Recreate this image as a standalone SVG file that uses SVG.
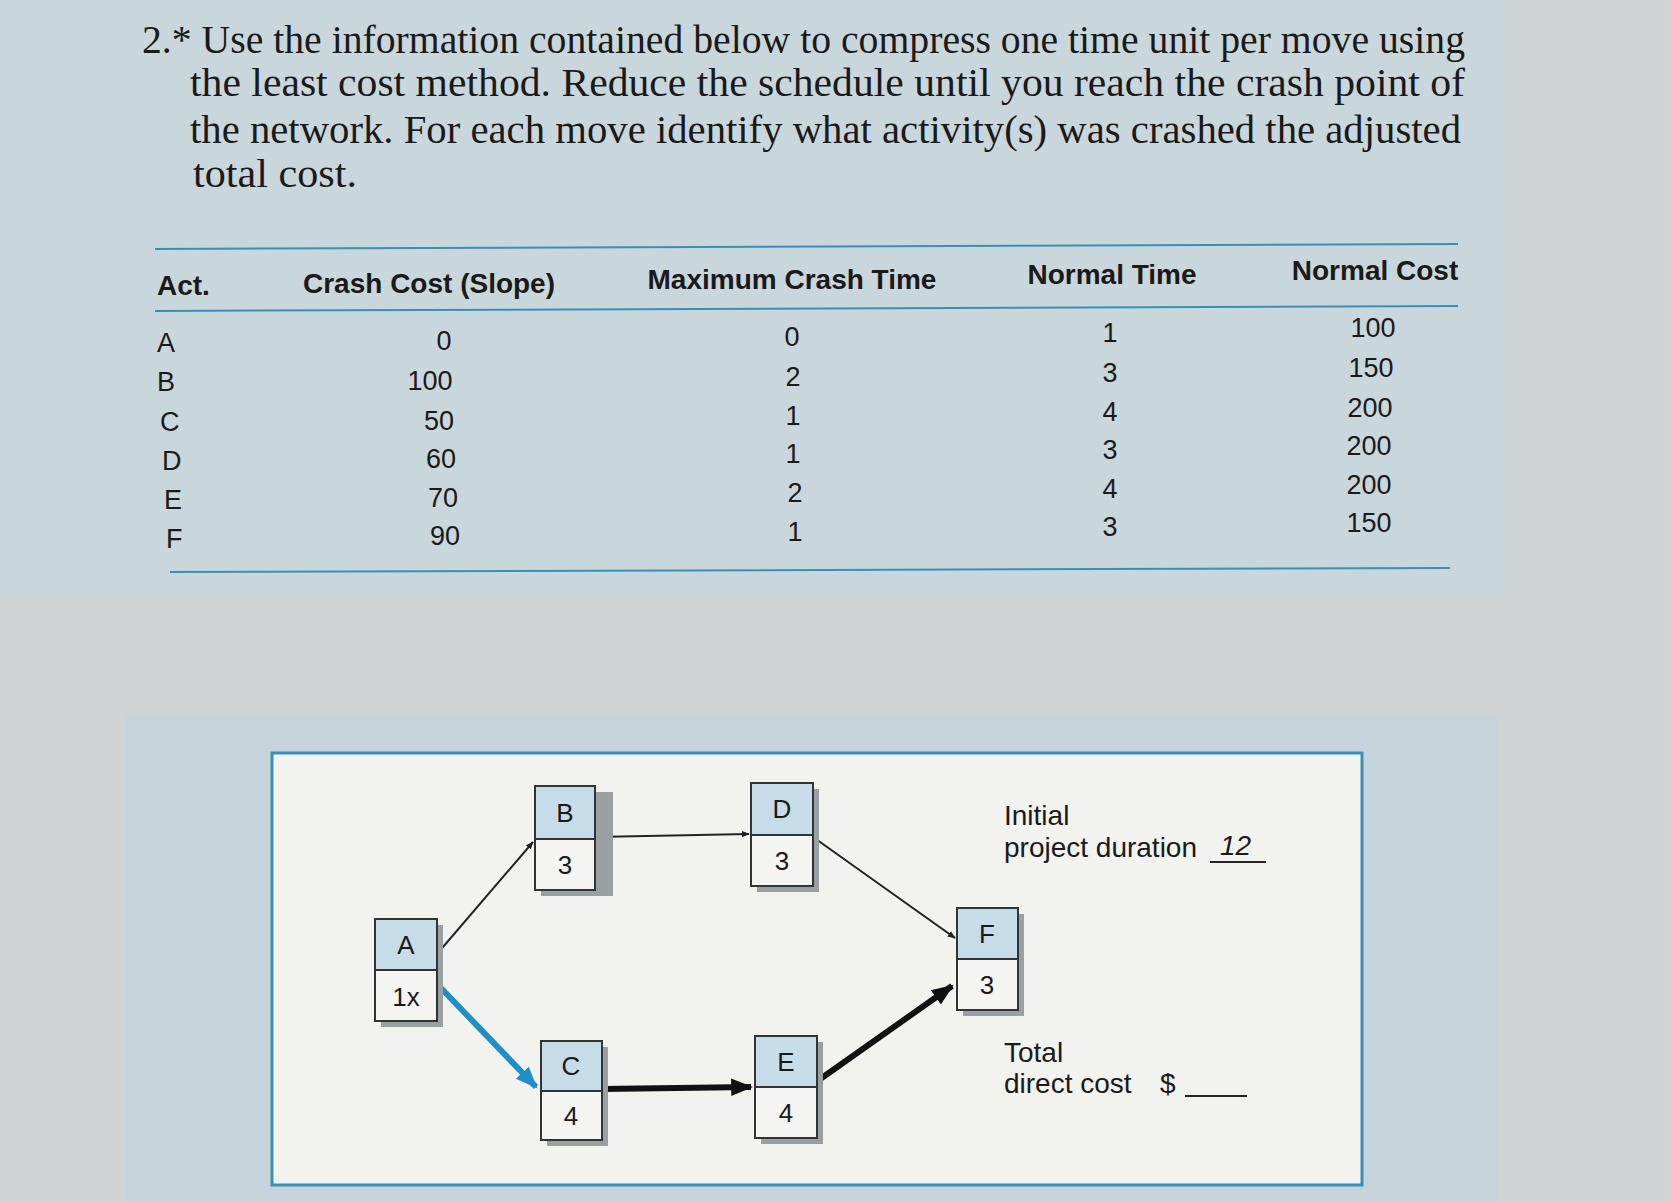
<svg xmlns="http://www.w3.org/2000/svg" width="1671" height="1201" viewBox="0 0 1671 1201">
<style>
.t{font-family:"Liberation Serif",serif;font-size:39px;fill:#1a1a1a}
.h{font-family:"Liberation Sans",sans-serif;font-size:28px;font-weight:bold;fill:#1a1a1a}
.c{font-family:"Liberation Sans",sans-serif;font-size:27px;fill:#1a1a1a}
.n{font-family:"Liberation Sans",sans-serif;font-size:26px;fill:#1a1a1a;text-anchor:middle}
.l{font-family:"Liberation Sans",sans-serif;font-size:28px;fill:#1a1a1a}
.top{fill:#c6dce8;stroke:#333;stroke-width:2}
.bot{fill:#f4f4f2;stroke:#333;stroke-width:2}
.sh{fill:#9a9fa2}
.e{stroke:#222;fill:none}
</style>
<defs>
<marker id="ar" viewBox="0 0 10 10" refX="9" refY="5" markerWidth="8" markerHeight="8" orient="auto" markerUnits="userSpaceOnUse"><path d="M0,1 L10,5 L0,9z" fill="#222"/></marker>
<marker id="arb" viewBox="0 0 10 10" refX="9" refY="5" markerWidth="22" markerHeight="22" orient="auto" markerUnits="userSpaceOnUse"><path d="M0,1 L10,5 L0,9z" fill="#111"/></marker>
<marker id="arc" viewBox="0 0 10 10" refX="9" refY="5" markerWidth="22" markerHeight="22" orient="auto" markerUnits="userSpaceOnUse"><path d="M0,1 L10,5 L0,9z" fill="#1f8fc8"/></marker>
</defs>
<rect width="1671" height="1201" fill="#cfd3d3"/>
<rect x="0" y="0" width="1503" height="598" fill="#c9d6dc"/>
<rect x="126" y="716" width="1371" height="485" fill="#c4d4da"/>
<rect x="272" y="753" width="1090" height="432" fill="#f2f2ef" stroke="#3a8fb8" stroke-width="3"/>
<g id="title">
<text class="t" x="142" y="53" textLength="1323" lengthAdjust="spacingAndGlyphs">2.* Use the information contained below to compress one time unit per move using</text>
<text class="t" x="190" y="96" textLength="1275" lengthAdjust="spacingAndGlyphs">the least cost method. Reduce the schedule until you reach the crash point of</text>
<text class="t" x="190" y="143" textLength="1271" lengthAdjust="spacingAndGlyphs">the network. For each move identify what activity(s) was crashed the adjusted</text>
<text class="t" x="193" y="187" textLength="164" lengthAdjust="spacingAndGlyphs">total cost.</text>
</g>
<g id="table">
<line x1="155" y1="249" x2="1458" y2="244" stroke="#3a8fb8" stroke-width="2"/>
<line x1="155" y1="311" x2="1458" y2="306" stroke="#3a8fb8" stroke-width="2"/>
<line x1="170" y1="572" x2="1450" y2="568" stroke="#3a8fb8" stroke-width="2"/>
<text class="h" x="157" y="295">Act.</text>
<text class="h" x="429" y="293" text-anchor="middle">Crash Cost (Slope)</text>
<text class="h" x="792" y="289" text-anchor="middle">Maximum Crash Time</text>
<text class="h" x="1112" y="284" text-anchor="middle">Normal Time</text>
<text class="h" x="1375" y="280" text-anchor="middle">Normal Cost</text>
<g class="c">
<text x="157" y="352">A</text><text x="157" y="391">B</text><text x="160" y="431">C</text><text x="162" y="470">D</text><text x="164" y="509">E</text><text x="166" y="548">F</text>
</g>
<g class="c" text-anchor="middle">
<text x="444" y="350">0</text><text x="430" y="390">100</text><text x="439" y="430">50</text><text x="441" y="468">60</text><text x="443" y="507">70</text><text x="445" y="545">90</text>
<text x="792" y="346">0</text><text x="793" y="386">2</text><text x="793" y="425">1</text><text x="793" y="463">1</text><text x="795" y="502">2</text><text x="795" y="541">1</text>
<text x="1110" y="342">1</text><text x="1110" y="382">3</text><text x="1110" y="421">4</text><text x="1110" y="459">3</text><text x="1110" y="498">4</text><text x="1110" y="536">3</text>
<text x="1373" y="337">100</text><text x="1371" y="377">150</text><text x="1370" y="417">200</text><text x="1369" y="455">200</text><text x="1369" y="494">200</text><text x="1369" y="532">150</text>
</g>
</g>
<g id="connectors">
<line class="e" x1="437" y1="954" x2="533" y2="842" stroke-width="2" marker-end="url(#ar)"/>
<line class="e" x1="595" y1="837" x2="749" y2="834" stroke-width="2" marker-end="url(#ar)"/>
<line class="e" x1="813" y1="837" x2="955" y2="938" stroke-width="2" marker-end="url(#ar)"/>
<line x1="439" y1="986" x2="536" y2="1087" stroke="#1f8fc8" stroke-width="6" marker-end="url(#arc)"/>
<line x1="602" y1="1089" x2="751" y2="1087" stroke="#111" stroke-width="6" marker-end="url(#arb)"/>
<line x1="816" y1="1082" x2="952" y2="986" stroke="#111" stroke-width="6" marker-end="url(#arb)"/>
</g>
<g id="A"><rect class="sh" x="381" y="925" width="62" height="102"/><rect class="top" x="375" y="919" width="62" height="51"/><rect class="bot" x="375" y="970" width="62" height="51"/><text class="n" x="406" y="954">A</text><text class="n" x="406" y="1006">1x</text></g>
<g id="B"><rect class="sh" x="541" y="792" width="72" height="104"/><rect class="top" x="535" y="786" width="60" height="53"/><rect class="bot" x="535" y="839" width="60" height="51"/><text class="n" x="565" y="822">B</text><text class="n" x="565" y="874">3</text></g>
<g id="D"><rect class="sh" x="757" y="789" width="62" height="103"/><rect class="top" x="751" y="783" width="62" height="52"/><rect class="bot" x="751" y="835" width="62" height="51"/><text class="n" x="782" y="818">D</text><text class="n" x="782" y="870">3</text></g>
<g id="F"><rect class="sh" x="963" y="914" width="61" height="102"/><rect class="top" x="957" y="908" width="61" height="51"/><rect class="bot" x="957" y="959" width="61" height="51"/><text class="n" x="987" y="943">F</text><text class="n" x="987" y="994">3</text></g>
<g id="C"><rect class="sh" x="547" y="1047" width="61" height="99"/><rect class="top" x="541" y="1041" width="61" height="50"/><rect class="bot" x="541" y="1091" width="61" height="49"/><text class="n" x="571" y="1075">C</text><text class="n" x="571" y="1125">4</text></g>
<g id="E"><rect class="sh" x="761" y="1042" width="62" height="102"/><rect class="top" x="755" y="1036" width="62" height="51"/><rect class="bot" x="755" y="1087" width="62" height="51"/><text class="n" x="786" y="1071">E</text><text class="n" x="786" y="1122">4</text></g>
<g id="labels">
<text class="l" x="1004" y="825">Initial</text>
<text class="l" x="1004" y="857">project duration</text>
<text class="l" x="1220" y="855" font-style="italic">12</text>
<line x1="1210" y1="862" x2="1266" y2="862" stroke="#222" stroke-width="2"/>
<text class="l" x="1004" y="1062">Total</text>
<text class="l" x="1004" y="1093">direct cost</text>
<text class="l" x="1160" y="1093">$</text>
<line x1="1185" y1="1096" x2="1247" y2="1096" stroke="#222" stroke-width="2"/>
</g>
</svg>
